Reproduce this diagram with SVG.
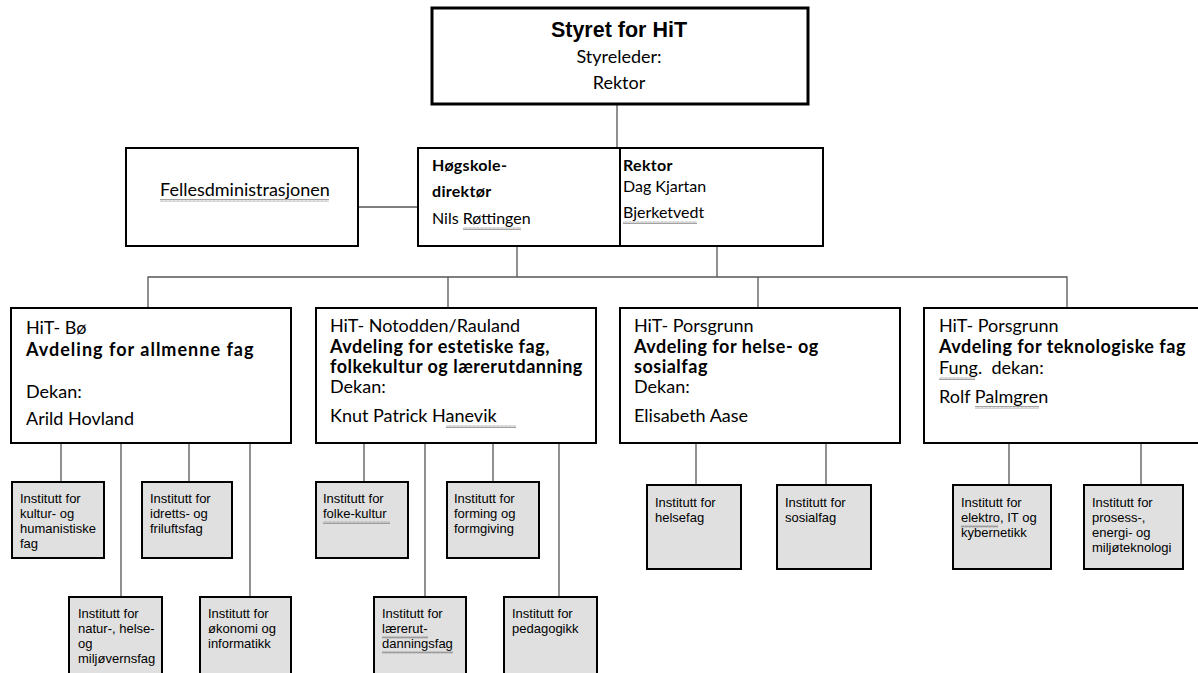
<svg xmlns="http://www.w3.org/2000/svg" width="1198" height="673" viewBox="0 0 1198 673">
<defs>
<pattern id="sq" width="4" height="3" patternUnits="userSpaceOnUse"><path d="M0,2.5 L1,0.5 L2,2.5 L3,0.5 L4,2.5" stroke="#8a8a8a" fill="none" stroke-width="0.8"/></pattern>
</defs>
<style>
.box{fill:#fff;stroke:#000;stroke-width:2}
.top{fill:#fff;stroke:#000;stroke-width:3}
.inst{fill:#e0e0e0;stroke:#000;stroke-width:2}
.c{fill:none;stroke:#555;stroke-width:1.3}
.g{font-family:Lato,"Open Sans","Liberation Sans",sans-serif;font-size:18px;fill:#000}
.gb{font-family:Lato,"Open Sans","Liberation Sans",sans-serif;font-size:18px;font-weight:bold;letter-spacing:0.5px;fill:#000}
.m{font-size:16px}
.mb{font-size:16px;letter-spacing:0.3px}
.a{font-family:"Liberation Sans",Arial,sans-serif;font-size:13px;fill:#000}
.sq{fill:url(#sq)}
</style>
<rect width="1198" height="673" fill="#fff"/>
<g id="connectors">
<line class="c" x1="617" y1="104" x2="617" y2="148"/>
<line class="c" x1="356" y1="207" x2="418" y2="207"/>
<line class="c" x1="517" y1="246" x2="517" y2="277"/>
<line class="c" x1="717" y1="246" x2="717" y2="277"/>
<polyline class="c" points="148,307 148,277 1067,277 1067,308"/>
<line class="c" x1="448" y1="277" x2="448" y2="307"/>
<line class="c" x1="758" y1="277" x2="758" y2="307"/>
<line class="c" x1="61" y1="443" x2="61" y2="482"/>
<line class="c" x1="189" y1="443" x2="189" y2="482"/>
<line class="c" x1="121" y1="443" x2="121" y2="597"/>
<line class="c" x1="250" y1="443" x2="250" y2="597"/>
<line class="c" x1="364" y1="443" x2="364" y2="482"/>
<line class="c" x1="493" y1="443" x2="493" y2="482"/>
<line class="c" x1="425" y1="443" x2="425" y2="597"/>
<line class="c" x1="559" y1="443" x2="559" y2="597"/>
<line class="c" x1="696" y1="443" x2="696" y2="485"/>
<line class="c" x1="826" y1="443" x2="826" y2="485"/>
<line class="c" x1="1009" y1="443" x2="1009" y2="485"/>
<line class="c" x1="1141" y1="443" x2="1141" y2="485"/>
</g>
<g id="styret">
<rect class="top" x="432" y="8" width="376" height="96"/>
<text x="619" y="37" text-anchor="middle" font-family="'Liberation Sans',Arial,sans-serif" font-size="21.5" font-weight="bold">Styret for HiT</text>
<text class="g" x="619" y="63" text-anchor="middle" font-size="17">Styreleder:</text>
<text class="g" x="619" y="89" text-anchor="middle" font-size="17.5">Rektor</text>
</g>
<g id="felles">
<rect class="box" x="126" y="148" width="232" height="98"/>
<text class="g" x="160" y="196">Fellesdministrasjonen</text>
<rect class="sq" x="160" y="199" width="169" height="3"/>
</g>
<g id="direktor">
<rect class="box" x="418" y="148" width="202" height="98"/>
<text class="gb mb" x="432" y="171">Høgskole-</text>
<text class="gb mb" x="432" y="197">direktør</text>
<text class="g m" x="432" y="224">Nils Røttingen</text>
<rect class="sq" x="463" y="227" width="58" height="3"/>
</g>
<g id="rektor">
<rect class="box" x="620" y="148" width="203" height="98"/>
<text class="gb mb" x="623" y="171">Rektor</text>
<text class="g m" x="623" y="192">Dag Kjartan</text>
<text class="g m" x="623" y="218">Bjerketvedt</text>
<rect class="sq" x="623" y="221" width="74" height="3"/>
</g>
<g id="hit-bo">
<rect class="box" x="11" y="308" width="280" height="135"/>
<text class="g" x="26" y="334">HiT- Bø</text>
<text class="gb" x="26" y="356" textLength="228" lengthAdjust="spacing">Avdeling for allmenne fag</text>
<text class="g" x="26" y="398">Dekan:</text>
<text class="g" x="26" y="425">Arild Hovland</text>
</g>
<g id="hit-notodden">
<rect class="box" x="316" y="308" width="280" height="135"/>
<text class="g" x="330" y="332">HiT- Notodden/Rauland</text>
<text class="gb" x="330" y="353">Avdeling for estetiske fag,</text>
<text class="gb" x="330" y="373">folkekultur og lærerutdanning</text>
<text class="g" x="330" y="393">Dekan:</text>
<text class="g" x="330" y="422">Knut Patrick Hanevik</text>
<rect class="sq" x="446" y="425" width="70" height="3"/>
</g>
<g id="hit-porsgrunn-helse">
<rect class="box" x="620" y="308" width="280" height="135"/>
<text class="g" x="634" y="332">HiT- Porsgrunn</text>
<text class="gb" x="634" y="353">Avdeling for helse- og</text>
<text class="gb" x="634" y="373">sosialfag</text>
<text class="g" x="634" y="393">Dekan:</text>
<text class="g" x="634" y="422">Elisabeth Aase</text>
</g>
<g id="hit-porsgrunn-tek">
<rect class="box" x="924" y="308" width="290" height="135"/>
<text class="g" x="939" y="332">HiT- Porsgrunn</text>
<text class="gb" x="939" y="353">Avdeling for teknologiske fag</text>
<text class="g" x="939" y="374" style="white-space:pre">Fung.  dekan:</text>
<rect class="sq" x="939" y="377" width="36" height="3"/>
<text class="g" x="939" y="403">Rolf Palmgren</text>
<rect class="sq" x="975" y="406" width="64" height="3"/>
</g>
<g id="inst-kultur">
<rect class="inst" x="12" y="482" width="92" height="76"/>
<text class="a" x="20" y="503">Institutt for</text>
<text class="a" x="20" y="518">kultur- og</text>
<text class="a" x="20" y="533">humanistiske</text>
<text class="a" x="20" y="548">fag</text>
</g>
<g id="inst-idrett">
<rect class="inst" x="142" y="482" width="90" height="76"/>
<text class="a" x="150" y="503">Institutt for</text>
<text class="a" x="150" y="518">idretts- og</text>
<text class="a" x="150" y="533">friluftsfag</text>
</g>
<g id="inst-natur">
<rect class="inst" x="69" y="597" width="93" height="90"/>
<text class="a" x="78" y="618">Institutt for</text>
<text class="a" x="78" y="633">natur-, helse-</text>
<text class="a" x="78" y="648">og</text>
<text class="a" x="78" y="663">miljøvernsfag</text>
</g>
<g id="inst-okonomi">
<rect class="inst" x="200" y="597" width="91" height="90"/>
<text class="a" x="208" y="618">Institutt for</text>
<text class="a" x="208" y="633">økonomi og</text>
<text class="a" x="208" y="648">informatikk</text>
</g>
<g id="inst-folkekultur">
<rect class="inst" x="316" y="482" width="92" height="76"/>
<text class="a" x="323" y="503">Institutt for</text>
<text class="a" x="323" y="518">folke-kultur</text>
<rect class="sq" x="323" y="521" width="67" height="3"/>
</g>
<g id="inst-forming">
<rect class="inst" x="447" y="482" width="92" height="76"/>
<text class="a" x="454" y="503">Institutt for</text>
<text class="a" x="454" y="518">forming og</text>
<text class="a" x="454" y="533">formgiving</text>
</g>
<g id="inst-larer">
<rect class="inst" x="374" y="597" width="92" height="90"/>
<text class="a" x="382" y="618">Institutt for</text>
<text class="a" x="382" y="633">lærerut-</text>
<rect class="sq" x="382" y="636" width="46" height="3"/>
<text class="a" x="382" y="648">danningsfag</text>
<rect class="sq" x="382" y="651" width="71" height="3"/>
</g>
<g id="inst-pedagogikk">
<rect class="inst" x="504" y="597" width="93" height="90"/>
<text class="a" x="512" y="618">Institutt for</text>
<text class="a" x="512" y="633">pedagogikk</text>
</g>
<g id="inst-helsefag">
<rect class="inst" x="647" y="485" width="94" height="84"/>
<text class="a" x="655" y="507">Institutt for</text>
<text class="a" x="655" y="522">helsefag</text>
</g>
<g id="inst-sosialfag">
<rect class="inst" x="777" y="485" width="94" height="84"/>
<text class="a" x="785" y="507">Institutt for</text>
<text class="a" x="785" y="522">sosialfag</text>
</g>
<g id="inst-elektro">
<rect class="inst" x="953" y="485" width="98" height="84"/>
<text class="a" x="961" y="507">Institutt for</text>
<text class="a" x="961" y="522">elektro, IT og</text>
<rect class="sq" x="961" y="525" width="37" height="3"/>
<text class="a" x="961" y="537">kybernetikk</text>
</g>
<g id="inst-prosess">
<rect class="inst" x="1084" y="485" width="99" height="84"/>
<text class="a" x="1092" y="507">Institutt for</text>
<text class="a" x="1092" y="522">prosess-,</text>
<text class="a" x="1092" y="537">energi- og</text>
<text class="a" x="1092" y="552">miljøteknologi</text>
</g>
</svg>
